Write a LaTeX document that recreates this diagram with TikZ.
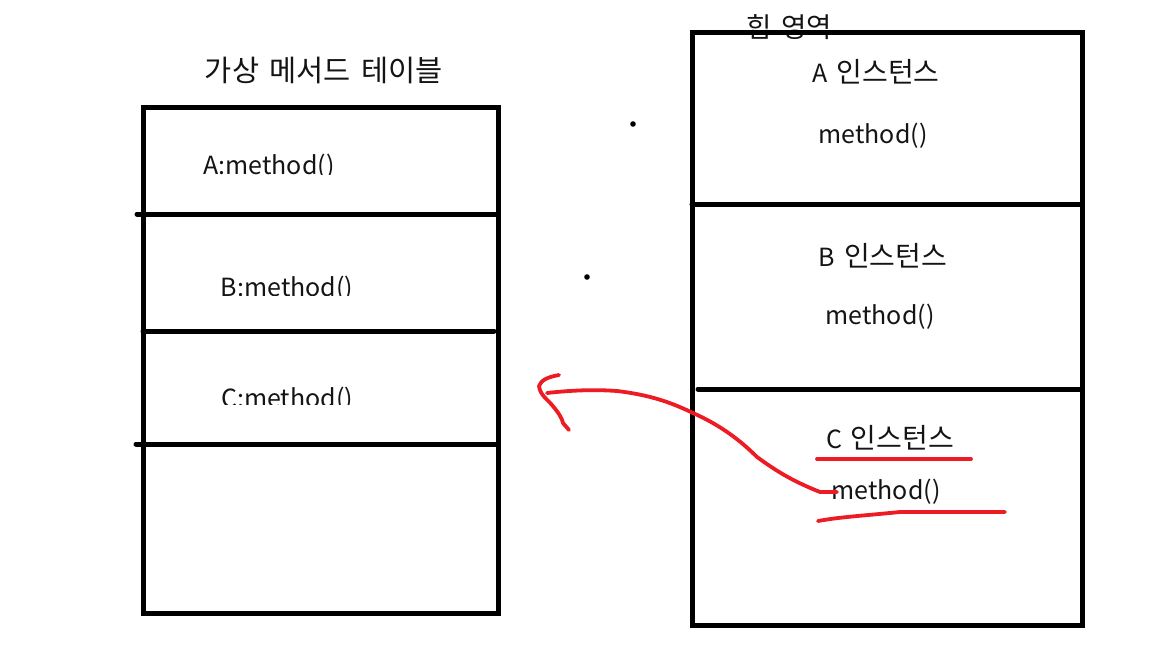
\documentclass[tikz,border=0pt]{standalone}
\usepackage{fontspec}
\newfontfamily\kr{Noto Sans CJK KR}[WordSpace=1.6]
\definecolor{penred}{RGB}{237,28,36}
\newcommand{\hangul}[1]{{\fontsize{28pt}{30pt}\selectfont #1}}
\tikzset{
  txt/.style={inner sep=0pt, font=\kr\fontsize{25pt}{30pt}\selectfont, text=black!92},
  wall/.style={line width=5pt, line cap=round, black},
  redpen/.style={line width=3.8pt, line cap=round, line join=round, penred},
}
\begin{document}
\begin{tikzpicture}[x=1pt,y=-1pt]
\useasboundingbox (0,0) rectangle (1152,648);
% titles
\node[txt, font=\kr\fontsize{29.5pt}{32pt}\selectfont] (vt) at (324,70) {가상 메서드 테이블};
\node[txt, font=\kr\fontsize{27.5pt}{30pt}\selectfont] (heap) at (789,27) {힙 영역};
% left table texts (clipped at bottom as in reference)
\begin{scope}
\clip (150,140) rectangle (490,174);
\node[txt] (am) at (269,167) {A:method()};
\end{scope}
\begin{scope}
\clip (150,260) rectangle (490,295);
\node[txt] (bm) at (287,289) {B:method()};
\end{scope}
\begin{scope}
\clip (150,370) rectangle (490,404);
\node[txt] (cm) at (287,400) {C:method()};
\end{scope}
% heap texts
\node[txt] (ai) at (876,72) {A \hangul{인스턴스}};
\node[txt] (amh) at (873,136) {method()};
\node[txt] (bi) at (883,256) {B \hangul{인스턴스}};
\node[txt] (bmh) at (880,317) {method()};
\node[txt] (ci) at (890,438) {C \hangul{인스턴스}};
\node[txt] (cmh) at (886,492) {method()};
% left table
\coordinate (lt) at (143,107);
\coordinate (rb) at (498,613);
\draw[wall, line cap=butt] (lt) rectangle (rb);
\coordinate (d1a) at (137,214); \coordinate (d1b) at (498,214);
\coordinate (d2a) at (143,331); \coordinate (d2b) at (494,331);
\coordinate (d3a) at (136,444); \coordinate (d3b) at (498,444);
\draw[wall] (d1a) -- (d1b);
\draw[wall] (d2a) -- (d2b);
\draw[wall] (d3a) -- (d3b);
% heap box
\coordinate (hlt) at (692,32);
\coordinate (hrb) at (1082,625);
\draw[wall, line cap=butt] (hlt) rectangle (hrb);
\coordinate (h1a) at (692,204); \coordinate (h1b) at (1082,204);
\coordinate (h2a) at (698,389); \coordinate (h2b) at (1082,389);
\draw[wall] (h1a) -- (h1b);
\draw[wall] (h2a) -- (h2b);
% stray dots
\fill (633,124) circle (2.8);
\fill (587,277) circle (2.8);
% red underlines
\coordinate (u1a) at (817,459); \coordinate (u1b) at (971,459);
\draw[redpen] (u1a) -- (u1b);
\coordinate (u2a) at (818,521);
\draw[redpen] (u2a) .. controls (840,517) and (860,516) .. (900,512) -- (1005,512);
% red arrow
\coordinate (tailend) at (837,492);
\coordinate (tip) at (539,386);
\draw[redpen] (tailend) -- (820,492)
  .. controls (790,480) and (775,470) .. (757,457)
  .. controls (740,440) and (720,425) .. (693,413)
  .. controls (670,402) and (650,395) .. (617,391)
  .. controls (590,389) and (565,391) .. (547,393);
\draw[redpen] (559,375) .. controls (548,377) and (541,380) .. (tip)
  .. controls (540,395) and (548,400) .. (552,405)
  .. controls (558,412) and (562,418) .. (563,423)
  -- (569,430);
\end{tikzpicture}
\end{document}
